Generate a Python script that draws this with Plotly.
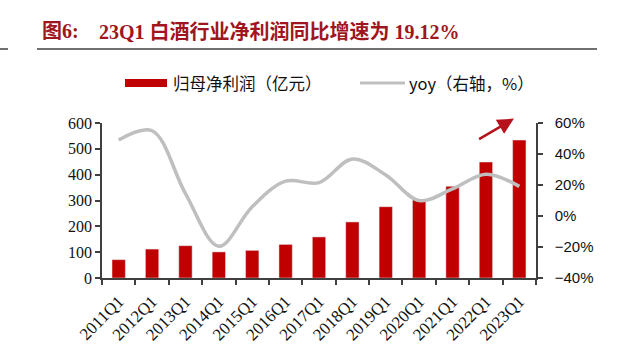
import plotly.graph_objects as go

quarters = ["2011Q1", "2012Q1", "2013Q1", "2014Q1", "2015Q1", "2016Q1", "2017Q1",
            "2018Q1", "2019Q1", "2020Q1", "2021Q1", "2022Q1", "2023Q1"]
net_profit = [71, 112, 125, 101, 107, 130, 159, 217, 276, 303, 355, 449, 534]
yoy = [49, 55, 14.5, -19.5, 6, 22.5, 21.5, 36.8, 26.5, 10, 17.5, 27, 19.12]

title_label = "图6:"
title_text = "23Q1 白酒行业净利润同比增速为 19.12%"
legend_bar = "归母净利润（亿元）"
legend_line = "yoy（右轴，%）"

W, H = 640, 354
L, R, T, B = 102, 104, 123, 76
pw, ph = W - L - R, H - T - B

def px(x):
    return (x - L) / pw

def py(y):
    return (H - B - y) / ph

serif = "Liberation Serif, Times New Roman, Noto Sans CJK SC"
cjk = "Noto Sans CJK SC, Liberation Serif"
axis_col = "#404040"
title_col = "#A0161E"

fig = go.Figure()
fig.add_trace(go.Bar(x=quarters, y=net_profit, marker_color="#C00000", width=0.4,
                     name=legend_bar, showlegend=False))
fig.add_trace(go.Scatter(x=quarters, y=yoy, yaxis="y2", mode="lines",
                         line=dict(color="#BFBFBF", width=3.5, shape="spline", smoothing=1.0),
                         name=legend_line, showlegend=False))

fig.update_layout(
    width=W, height=H, autosize=False,
    margin=dict(l=L, r=R, t=T, b=B),
    paper_bgcolor="white", plot_bgcolor="white",
    showlegend=False,
    xaxis=dict(type="category", range=[-0.5, 12.5], tickson="boundaries",
               ticks="outside", ticklen=5, tickcolor=axis_col, tickwidth=1.5,
               showline=True, linecolor=axis_col, linewidth=1.5, automargin=False,
               showgrid=False, tickangle=-45, ticklabelstandoff=5,
               tickfont=dict(family=serif, size=17, color="#111")),
    yaxis=dict(range=[0, 600], dtick=100, ticks="outside", ticklen=5,
               tickcolor=axis_col, tickwidth=1.5, showline=True, automargin=False,
               linecolor=axis_col, linewidth=1.5, showgrid=False, zeroline=False,
               tickfont=dict(family=serif, size=16, color="#111")),
    yaxis2=dict(range=[-40, 60], dtick=20, ticksuffix="%", overlaying="y",
                side="right", ticks="outside", ticklen=5, tickcolor=axis_col,
                tickwidth=1.5, showline=True, linecolor=axis_col, linewidth=1.5,
                showgrid=False, zeroline=False, ticklabelstandoff=9, automargin=False,
                tickfont=dict(family="Liberation Sans, Arial", size=15, color="#111")),
)

shapes = [
    dict(type="line", xref="paper", yref="paper", x0=px(37), x1=px(597),
         y0=py(49), y1=py(49), line=dict(color=axis_col, width=1.5)),
    dict(type="line", xref="paper", yref="paper", x0=px(0), x1=px(8),
         y0=py(49), y1=py(49), line=dict(color=axis_col, width=1.5)),
    dict(type="rect", xref="paper", yref="paper", x0=px(125), x1=px(167),
         y0=py(87), y1=py(79), fillcolor="#C00000", line=dict(width=0)),
    dict(type="line", xref="paper", yref="paper", x0=px(360), x1=px(405),
         y0=py(83), y1=py(83), line=dict(color="#BFBFBF", width=3)),
]

annotations = [
    dict(text="<b>" + title_label + "</b>", xref="paper", yref="paper",
         x=px(40), y=py(31), xanchor="left", yanchor="middle", showarrow=False,
         font=dict(family=serif, size=20, color=title_col)),
    dict(text="<b>" + title_text + "</b>", xref="paper", yref="paper",
         x=px(97), y=py(31), xanchor="left", yanchor="middle", showarrow=False,
         font=dict(family=serif, size=20, color=title_col)),
    dict(text=legend_bar, xref="paper", yref="paper", x=px(171), y=py(83),
         xanchor="left", yanchor="middle", showarrow=False,
         font=dict(family=cjk, size=16.5, color="#111")),
    dict(text=legend_line, xref="paper", yref="paper", x=px(407), y=py(83),
         xanchor="left", yanchor="middle", showarrow=False,
         font=dict(family=cjk, size=16.5, color="#111")),
    dict(x=11.84, y=617, ax=10.75, ay=534, xref="x", yref="y", axref="x", ayref="y",
         text="", showarrow=True, arrowhead=2, arrowsize=1.3, arrowwidth=2.5,
         arrowcolor="#B5121B", standoff=0),
]

fig.update_layout(shapes=shapes, annotations=annotations)
fig.write_html("out.html")
